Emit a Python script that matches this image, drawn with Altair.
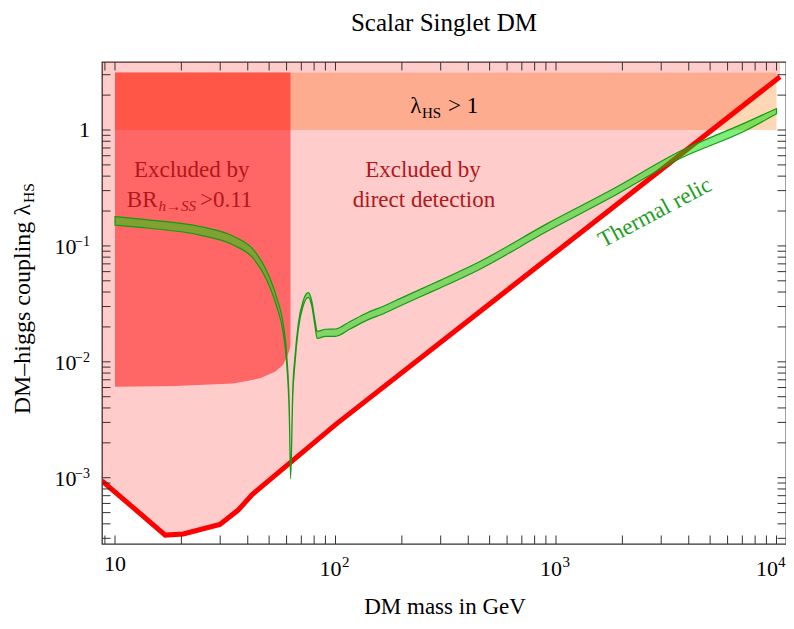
import altair as alt
import pandas as pd

# ---------------- data ----------------
# direct-detection bound (red line); region above it is excluded (pink)
dd_mass = [8.73, 16.9, 20.4, 29.9, 36.2, 41.7, 100.0, 1000.0, 10370.0]
dd_lam = [9.4e-4, 3.2e-4, 3.27e-4, 3.96e-4, 5.26e-4, 7.1e-4, 2.87e-3, 8.87e-2, 2.88]

# invisible Higgs width bound BR(h->SS) > 0.11 (dark red region, lower edge)
br_mass = [10.0, 18.7, 34.3, 45.5, 53.2, 57.8, 60.3, 61.8, 62.5]
br_low = [0.0061, 0.0062, 0.0065, 0.0072, 0.0082, 0.0094, 0.0111, 0.0125, 0.0140]

# perturbativity band lambda_HS > 1
pert_mass = [10.0, 10000.0]
pert_low = 1.0
pert_top = 3.14

# thermal relic band (lower / upper edges)
relic_mass = [10, 14.4, 24.3, 34.4, 42.4, 48.7, 54.1, 57.9, 60.1, 61.7, 62.6,
              64.0, 65.5, 67.8, 71.4, 75.3, 78.0, 80.7, 82.6, 90, 100, 116,
              138.5, 165, 196, 241, 300, 452, 908, 1820, 3650, 7330, 10000]
relic_lo = [0.151, 0.142, 0.124, 0.102, 0.078, 0.051, 0.030, 0.0178, 0.0095, 0.0035, 0.00098,
            0.0050, 0.0097, 0.0190, 0.0305, 0.0360, 0.0305, 0.0204, 0.0159, 0.0166, 0.0166, 0.0191,
            0.0228, 0.0260, 0.0303, 0.0362, 0.0436, 0.0630, 0.133, 0.268, 0.567, 1.00, 1.38]
relic_hi = [0.179, 0.167, 0.147, 0.121, 0.093, 0.061, 0.036, 0.0213, 0.0114, 0.0042, 0.00106,
            0.0058, 0.0111, 0.0213, 0.0337, 0.0395, 0.0337, 0.0229, 0.0183, 0.0191, 0.0192, 0.0222,
            0.0264, 0.0302, 0.0351, 0.0420, 0.0507, 0.0734, 0.155, 0.311, 0.655, 1.17, 1.53]

# axis ranges and ticks
x_domain = [8.731, 11043]
y_domain = [2.68e-4, 3.862]
x_major = [10, 100, 1000, 10000]
x_minor = [9, 20, 30, 40, 50, 60, 70, 80, 90, 200, 300, 400, 500, 600, 700, 800, 900,
           2000, 3000, 4000, 5000, 6000, 7000, 8000, 9000]
y_major = [0.001, 0.01, 0.1, 1]
y_minor = [3e-4, 4e-4, 5e-4, 6e-4, 7e-4, 8e-4, 9e-4,
           2e-3, 3e-3, 4e-3, 5e-3, 6e-3, 7e-3, 8e-3, 9e-3,
           0.02, 0.03, 0.04, 0.05, 0.06, 0.07, 0.08, 0.09,
           0.2, 0.3, 0.4, 0.5, 0.6, 0.7, 0.8, 0.9, 2, 3]
x_lab_vals = [100, 1000]
x_lab_exp = ["2", "3"]
x_last_val = [10000]
x_last_exp = ["4"]
y_lab_vals = [0.001, 0.01, 0.1]
y_lab_exp = ["\u22123", "\u22122", "\u22121"]

# ---------------- chart ----------------
W, H = 684, 482
FONT = "Liberation Serif"
xs = alt.Scale(type="log", domain=x_domain, nice=False)
ys = alt.Scale(type="log", domain=y_domain, nice=False)


def X(f):
    return alt.X(f"{f}:Q", scale=xs, axis=None)


def Y(f):
    return alt.Y(f"{f}:Q", scale=ys, axis=None)


dd_df = pd.DataFrame({"m": dd_mass, "lam": dd_lam, "top": [y_domain[1]] * len(dd_mass)})
br_df = pd.DataFrame({"m": br_mass, "low": br_low, "top": [pert_top] * len(br_mass)})
pert_df = pd.DataFrame({"x1": [pert_mass[0]], "x2": [pert_mass[1]], "y1": [pert_low], "y2": [pert_top]})
relic_df = pd.DataFrame({"m": relic_mass, "lo": relic_lo, "hi": relic_hi})

pert = alt.Chart(pert_df).mark_rect(color="#FED8B4").encode(
    x=X("x1"), x2="x2:Q", y=Y("y1"), y2="y2:Q")
pink = alt.Chart(dd_df).mark_area(color="#FF0000", opacity=0.2, clip=True).encode(
    x=X("m"), y=Y("lam"), y2="top:Q")
dark = alt.Chart(br_df).mark_area(color="#FF0000", opacity=0.5, clip=True).encode(
    x=X("m"), y=Y("low"), y2="top:Q")
redline = alt.Chart(dd_df).mark_line(color="#FF0000", strokeWidth=5, clip=True).encode(
    x=X("m"), y=Y("lam"))
band = alt.Chart(relic_df).mark_area(
    fill="#00DD00", fillOpacity=0.5, stroke="#149A14", strokeWidth=1.2,
    interpolate="monotone", clip=True).encode(x=X("m"), y=Y("lo"), y2="hi:Q")

TICK = "#333333"
xt_all = pd.DataFrame({"v": x_major + x_minor})
yt_all = pd.DataFrame({"v": y_major + y_minor})
tl = 8.5
ticks = [
    alt.Chart(xt_all).mark_rule(color=TICK, strokeWidth=1).encode(
        x=X("v"), y=alt.value(H), y2=alt.value(H - tl)),
    alt.Chart(xt_all).mark_rule(color=TICK, strokeWidth=1).encode(
        x=X("v"), y=alt.value(0), y2=alt.value(tl)),
    alt.Chart(yt_all).mark_rule(color=TICK, strokeWidth=1).encode(
        y=Y("v"), x=alt.value(0), x2=alt.value(tl)),
    alt.Chart(yt_all).mark_rule(color=TICK, strokeWidth=1).encode(
        y=Y("v"), x=alt.value(W), x2=alt.value(W - tl)),
]

# tick labels
xl_df = pd.DataFrame({"m": x_lab_vals, "b": ["10"] * len(x_lab_vals), "e": x_lab_exp})
xlast_df = pd.DataFrame({"m": x_last_val, "b": ["10"], "e": x_last_exp})
yl_df = pd.DataFrame({"v": y_lab_vals, "b": ["10"] * 3, "e": y_lab_exp})


def xlab(df, dxb, dxe):
    return [
        alt.Chart(df).mark_text(font=FONT, fontSize=22, align="right", baseline="alphabetic",
                                dx=dxb, color="black").encode(x=X("m"), y=alt.value(514), text="b:N"),
        alt.Chart(df).mark_text(font=FONT, fontSize=15, align="left", baseline="alphabetic",
                                dx=dxe, color="black").encode(x=X("m"), y=alt.value(504.5), text="e:N"),
    ]


labels = [
    alt.Chart(pd.DataFrame({"m": [10], "b": ["10"]})).mark_text(
        font=FONT, fontSize=22, align="center", baseline="alphabetic", color="black").encode(
        x=X("m"), y=alt.value(508.7), text="b:N"),
    *xlab(xl_df, 6, 6.5),
    *xlab(xlast_df, 1.5, 1.5),
    alt.Chart(pd.DataFrame({"v": [1], "b": ["1"]})).mark_text(
        font=FONT, fontSize=22, align="right", baseline="alphabetic", dy=6.5, color="black").encode(
        y=Y("v"), x=alt.value(-12), text="b:N"),
    alt.Chart(yl_df).mark_text(font=FONT, fontSize=22, align="right", baseline="alphabetic",
                               dy=8.3, color="black").encode(y=Y("v"), x=alt.value(-25.5), text="b:N"),
    alt.Chart(yl_df).mark_text(font=FONT, fontSize=14, align="right", baseline="alphabetic",
                               dy=0, color="black").encode(y=Y("v"), x=alt.value(-12), text="e:N"),
]


def txt(t, x, y, size=23, color="black", align="center", angle=0, italic=False, baseline="alphabetic"):
    kw = dict(font=FONT, fontSize=size, color=color, align=align, baseline=baseline)
    if angle:
        kw["angle"] = angle
    if italic:
        kw["fontStyle"] = "italic"
    return alt.Chart(pd.DataFrame({"t": [t]})).mark_text(**kw).encode(
        x=alt.value(x), y=alt.value(y), text="t:N")


RED_TXT = "#B2171A"
texts = [
    txt("Scalar Singlet DM", 342, -31.5, size=25),
    txt("DM mass in GeV", 343, 552, size=23),
    txt("DM\u2013higgs coupling \u03bb", -72.0, 142, size=24, align="right", angle=270),
    txt("HS", -67.7, 141, size=15.5, align="left", angle=270),
    txt("Excluded by", 89.7, 115, color=RED_TXT),
    txt("BR", 55.5, 144.7, color=RED_TXT, align="right"),
    txt("h\u2192SS", 56.5, 148.7, size=15, color=RED_TXT, align="left", italic=True),
    txt(">0.11", 98, 144.7, color=RED_TXT, align="left"),
    txt("Excluded by", 321, 115, color=RED_TXT),
    txt("direct detection", 322, 144.7, color=RED_TXT),
    txt("\u03bb", 319.5, 51.3, align="right"),
    txt("HS", 320, 55.5, size=15, align="left"),
    txt("> 1", 346, 51.3, align="left"),
    txt("Thermal relic", 553, 150.5, size=23, color="#1E9E1E", angle=332, baseline="middle"),
]

chart = alt.layer(pert, pink, dark, redline, band, *ticks, *labels, *texts).properties(
    width=W, height=H,
    padding={"left": 94, "top": 54, "right": 0, "bottom": 76},
    autosize=alt.AutoSizeParams(type="none"),
).configure_view(stroke="#333333", strokeWidth=1.3)

chart.save("out.html", embed_options={"renderer": "svg", "actions": False})
